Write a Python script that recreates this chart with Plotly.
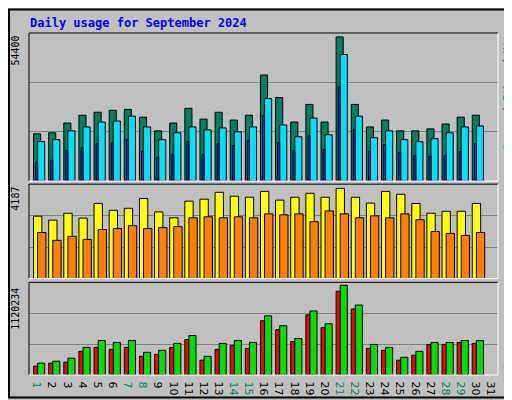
import plotly.graph_objects as go
from plotly.subplots import make_subplots

days = list(range(1, 32))
weekend = [1, 7, 8, 14, 15, 21, 22, 28, 29]

hits = [17847, 18215, 21908, 24862, 25969, 26708, 27077, 24123, 18954, 21908,
        27446, 23385, 25969, 23015, 24862, 40000, 31508, 22277, 28923, 22277,
        54400, 28923, 20431, 23015, 18954, 18954, 19692, 21538, 24123, 24862]
files = [14892, 15631, 18954, 20431, 22277, 22646, 24492, 20431, 15631, 18215,
         20431, 19323, 20062, 18585, 20431, 31138, 21169, 16738, 23754, 17477,
         47754, 24492, 16369, 18954, 15631, 14892, 16000, 18215, 20431, 20800]
pages = [7138, 7877, 11569, 12677, 14154, 14523, 15631, 11200, 8985, 10092,
         14892, 10092, 14154, 13415, 15262, 24862, 14523, 11569, 17108, 11938,
         35569, 19323, 11200, 13785, 10831, 9723, 9354, 9723, 11200, 14154]
visits = [2897, 2715, 3033, 2806, 3489, 3171, 3262, 3717, 3095, 2821,
          3595, 3686, 4004, 3823, 3777, 4050, 3641, 3777, 3959, 3777,
          4187, 3777, 3504, 4050, 3914, 3489, 3033, 3125, 3125, 3489]
sites = [2139, 1775, 1957, 1820, 2275, 2321, 2457, 2321, 2366, 2412,
         2821, 2867, 2821, 2867, 2821, 3004, 2958, 3004, 2639, 3140,
         3004, 2821, 2912, 2821, 3004, 2730, 2184, 2093, 2002, 2139]
kb_out = [147715, 172332, 209258, 344612, 430779, 406161, 430779, 283071, 307689, 394853,
          492321, 233876, 394853, 430779, 406161, 738405, 615321, 455396, 800011, 640000,
          1120234, 873762, 381579, 344612, 221568, 295378, 406161, 406161, 430779, 430779]
kb_f = [110790, 147715, 160024, 295378, 344612, 320000, 344612, 233876, 258494, 344612,
        443088, 184642, 320000, 369230, 332309, 677011, 566086, 418458, 750776, 590703,
        1046352, 824527, 332309, 307689, 184642, 246185, 381579, 381579, 406161, 394853]
kb_in = [8000] * 15 + [12000] + [8000] * 4 + [12000] + [8000] * 9

x = days[:30]
top_max = 54400 * 152 / 148
mid_max = 4187 * 96 / 91.7
bot_max = 1120234 * 94 / 91

fig = make_subplots(rows=3, cols=1, shared_xaxes=True)


def bars(vals, color, offset, width, row):
    fig.add_trace(go.Bar(x=x, y=vals, offset=offset, width=width,
                         marker=dict(color=color, line=dict(color='black', width=1))),
                  row=row, col=1)


bars(hits, '#008060', -0.2, 0.47, 1)
bars(files, '#00e0ff', 0.07, 0.47, 1)
bars(pages, '#0040ff', -0.06, 0.13, 1)
bars(visits, '#ffff00', -0.2, 0.55, 2)
bars(sites, '#ff8000', 0.07, 0.55, 2)
bars(kb_f, '#ff0000', -0.2, 0.29, 3)
bars(kb_in, '#0080ff', -0.06, 0.1, 3)
bars(kb_out, '#00e000', 0.07, 0.47, 3)

ticktext = [f"<span style='color:#008060'>{d}</span>" if d in weekend else str(d) for d in days]

fig.update_layout(
    width=512, height=400, showlegend=False, barmode='overlay',
    paper_bgcolor='#c0c0c0', plot_bgcolor='#c0c0c0',
    margin=dict(l=20.7, r=22, t=25, b=24),
    font=dict(family='DejaVu Sans', size=12, color='black'),
    yaxis=dict(domain=[0.567, 1], range=[0, top_max]),
    yaxis2=dict(domain=[0.282, 0.558], range=[0, mid_max]),
    yaxis3=dict(domain=[0, 0.271], range=[0, bot_max]),
)
for i, m in enumerate([top_max, mid_max, bot_max], start=1):
    fig.update_yaxes(tickvals=[m / 3, 2 * m / 3], showticklabels=False,
                     gridcolor='#808080', gridwidth=1, zeroline=False, row=i, col=1)
fig.update_xaxes(range=[0.5, 31.5], showgrid=False, zeroline=False,
                 tickvals=[d + 0.15 for d in days], ticktext=ticktext,
                 ticks='', showticklabels=False)
fig.update_xaxes(showticklabels=True, tickfont=dict(size=11), row=3, col=1)

W, H = 469.3, 351
shapes = [dict(type='rect', xref='paper', yref='paper', x0=-20 / W, x1=1 + 21 / W,
               y0=-23 / H, y1=1 + 24 / H, line=dict(color='black', width=2))]
for y0, y1 in [(0.567, 1), (0.282, 0.558), (0, 0.271)]:
    shapes.append(dict(type='line', xref='paper', yref='paper', x0=0, x1=1, y0=y1, y1=y1,
                       line=dict(color='black', width=1)))
    shapes.append(dict(type='line', xref='paper', yref='paper', x0=0, x1=0, y0=y0, y1=y1,
                       line=dict(color='black', width=1)))
    shapes.append(dict(type='line', xref='paper', yref='paper', x0=0, x1=1, y0=y0, y1=y0,
                       line=dict(color='white', width=1)))
    shapes.append(dict(type='line', xref='paper', yref='paper', x0=1, x1=1, y0=y0, y1=y1,
                       line=dict(color='white', width=1)))
fig.update_layout(shapes=shapes)

mono = 'DejaVu Sans Mono'


def py(pix):
    # pixel row of the page -> paper fraction
    return (376 - pix) / H


ann = [
    dict(text='<b>Daily usage for September 2024</b>', x=-1.5 / W, y=py(15),
         xanchor='left', yanchor='middle', textangle=0,
         font=dict(family=mono, size=12, color='#0000ff')),
    dict(text='54400', x=-13 / W, y=py(43)),
    dict(text='4187', x=-13 / W, y=py(195)),
    dict(text='1120234', x=-13 / W, y=py(308)),
    dict(text="<span style='color:#00c0ff'>Pages</span> / <span style='color:#0080ff'>Files</span>"
              " / <span style='color:#008060'>Hits</span>", x=1 + 10 / W, y=py(83)),
    dict(text="<span style='color:#ff8000'>Sites</span> / <span style='color:#e0e000'>Visits</span>",
         x=1 + 10 / W, y=py(218)),
    dict(text="<span style='color:#ff0000'>kB F</span> / <span style='color:#0080ff'>kB In</span>"
              " / <span style='color:#00c000'>kB Out</span>", x=1 + 10 / W, y=py(324)),
]
for a in ann:
    a.setdefault('textangle', -90)
    a.setdefault('font', dict(family=mono, size=10, color='black'))
    a.setdefault('xanchor', 'center')
    a.setdefault('yanchor', 'middle')
    a.update(xref='paper', yref='paper', showarrow=False)
fig.update_layout(annotations=ann)

fig.write_html("out.html")
